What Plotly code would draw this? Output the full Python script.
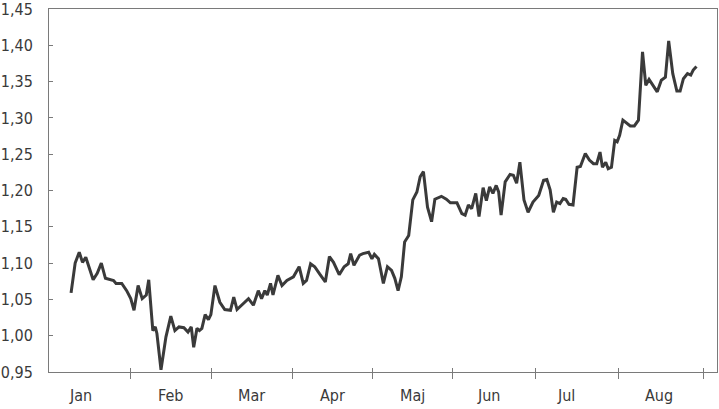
import plotly.graph_objects as go

# time in months since 1 Jan (0 = start of Jan)
t = [0.27, 0.32, 0.37, 0.41, 0.45, 0.54, 0.59, 0.64, 0.69, 0.75, 0.79, 0.82, 0.89, 0.95,
     1.00, 1.04, 1.09, 1.14, 1.19, 1.22, 1.27, 1.30, 1.32, 1.37, 1.43, 1.49, 1.54, 1.59,
     1.65, 1.70, 1.74, 1.77, 1.81, 1.84, 1.87, 1.91, 1.95, 1.98,
     2.03, 2.09, 2.15, 2.22, 2.26, 2.30, 2.36, 2.44, 2.50, 2.56, 2.60, 2.64, 2.67, 2.71,
     2.74, 2.80, 2.85, 2.91, 2.99,
     3.06, 3.11, 3.15, 3.20, 3.25, 3.31, 3.38, 3.43, 3.48, 3.55, 3.61, 3.66, 3.69, 3.73,
     3.80, 3.84, 3.91, 3.95, 3.98,
     4.03, 4.09, 4.14, 4.19, 4.23, 4.27, 4.31, 4.35, 4.40, 4.45, 4.50, 4.54, 4.58, 4.63,
     4.68, 4.72, 4.80, 4.86, 4.91, 4.99,
     5.05, 5.09, 5.13, 5.17, 5.22, 5.26, 5.31, 5.35, 5.39, 5.43, 5.47, 5.50, 5.53, 5.58,
     5.64, 5.68, 5.72, 5.76, 5.81, 5.86, 5.92, 5.99,
     6.05, 6.09, 6.13, 6.17, 6.21, 6.25, 6.29, 6.32, 6.36, 6.41, 6.46, 6.50, 6.56, 6.61,
     6.66, 6.70, 6.74, 6.77, 6.81, 6.84, 6.88, 6.92, 6.95, 6.98,
     7.02, 7.07, 7.11, 7.16, 7.21, 7.26, 7.30, 7.34, 7.39, 7.44, 7.49, 7.54, 7.58, 7.63,
     7.68, 7.72, 7.76, 7.81, 7.85, 7.88, 7.92]

rate = [1.059, 1.100, 1.115, 1.101, 1.108, 1.077, 1.086, 1.100, 1.079, 1.077, 1.076, 1.072, 1.072, 1.062,
        1.051, 1.035, 1.069, 1.051, 1.056, 1.077, 1.007, 1.012, 1.003, 0.953, 0.998, 1.027, 1.007, 1.012,
        1.011, 1.005, 1.012, 0.984, 1.010, 1.007, 1.010, 1.029, 1.022, 1.029,
        1.069, 1.046, 1.036, 1.035, 1.053, 1.036, 1.042, 1.051, 1.042, 1.062, 1.051, 1.062, 1.056, 1.072,
        1.056, 1.083, 1.069, 1.076, 1.081,
        1.095, 1.072, 1.076, 1.099, 1.095, 1.085, 1.074, 1.109, 1.101, 1.084, 1.095, 1.099, 1.113, 1.097,
        1.111, 1.113, 1.115, 1.106, 1.112,
        1.106, 1.072, 1.095, 1.090, 1.079, 1.062, 1.081, 1.129, 1.138, 1.187, 1.198, 1.219, 1.226, 1.177,
        1.157, 1.188, 1.192, 1.188, 1.183, 1.183,
        1.168, 1.166, 1.180, 1.175, 1.196, 1.164, 1.204, 1.186, 1.205, 1.196, 1.207, 1.198, 1.166, 1.212,
        1.222, 1.221, 1.210, 1.239, 1.187, 1.170, 1.184, 1.193,
        1.214, 1.215, 1.201, 1.170, 1.184, 1.182, 1.189, 1.188, 1.181, 1.180, 1.232, 1.233, 1.251, 1.242,
        1.237, 1.237, 1.253, 1.232, 1.239, 1.230, 1.232, 1.269, 1.267, 1.276,
        1.297, 1.292, 1.289, 1.289, 1.297, 1.391, 1.345, 1.353, 1.345, 1.336, 1.352, 1.356, 1.406, 1.361,
        1.337, 1.337, 1.354, 1.361, 1.359, 1.366, 1.371]

months = ["Jan", "Feb", "Mar", "Apr", "Maj", "Jun", "Jul", "Aug"]
month_label_pos = [0.39, 1.49, 2.48, 3.47, 4.45, 5.38, 6.33, 7.46]
month_edges = [1.00, 1.99, 2.98, 3.96, 4.94, 5.95, 6.97, 8.00]
y_ticks = [0.95, 1.00, 1.05, 1.10, 1.15, 1.20, 1.25, 1.30, 1.35, 1.40, 1.45]

FONT = "DejaVu Sans Condensed, Liberation Sans Narrow, Liberation Sans, sans-serif"
TXT = "#3a3a3a"
AX = "#7a7a7a"
FS = 16

fig = go.Figure()
fig.add_trace(go.Scatter(x=t, y=rate, mode="lines",
                         line=dict(color="#3a3a3a", width=3), hoverinfo="skip"))
# invisible trace on overlay axis for inner tick marks
fig.add_trace(go.Scatter(x=[t[0]], y=[rate[0]], xaxis="x2", mode="markers",
                         marker=dict(opacity=0), hoverinfo="skip"))

fig.update_layout(
    width=719, height=409,
    margin=dict(l=49, r=2, t=9, b=37, autoexpand=False),
    paper_bgcolor="white", plot_bgcolor="white",
    showlegend=False,
    separators=",.",
    font=dict(family=FONT, size=FS, color=TXT),
    xaxis=dict(range=[0, 8.171], tickvals=month_edges, ticks="outside", ticklen=6,
               tickcolor=AX, tickwidth=1, showticklabels=False, showgrid=False,
               zeroline=False, showline=True, linecolor=AX, linewidth=1, mirror=True,
               automargin=False),
    xaxis2=dict(range=[0, 8.171], overlaying="x", anchor="y", side="bottom",
                tickvals=month_edges, ticks="inside", ticklen=4, tickcolor=AX,
                tickwidth=1, showticklabels=False, showgrid=False, zeroline=False,
                showline=False, automargin=False),
    yaxis=dict(range=[0.9499, 1.4501], tickvals=y_ticks, tickformat=".2f",
               ticks="inside", ticklen=4, tickcolor=AX, tickwidth=1,
               showgrid=False, zeroline=False, showline=True, linecolor=AX,
               linewidth=1, mirror=True, ticklabelstandoff=12, automargin=False,
               ticklabeloverflow="allow",
               tickfont=dict(family=FONT, size=FS, color=TXT)),
)

for m, p in zip(months, month_label_pos):
    fig.add_annotation(x=p, y=0, xref="x", yref="paper", text=m, showarrow=False,
                       yshift=-23, yanchor="middle", xanchor="center",
                       font=dict(family=FONT, size=FS, color=TXT))

fig.write_html("out.html", config={"displayModeBar": False},
               post_script="document.body.style.margin='0';document.body.style.overflow='hidden';")
